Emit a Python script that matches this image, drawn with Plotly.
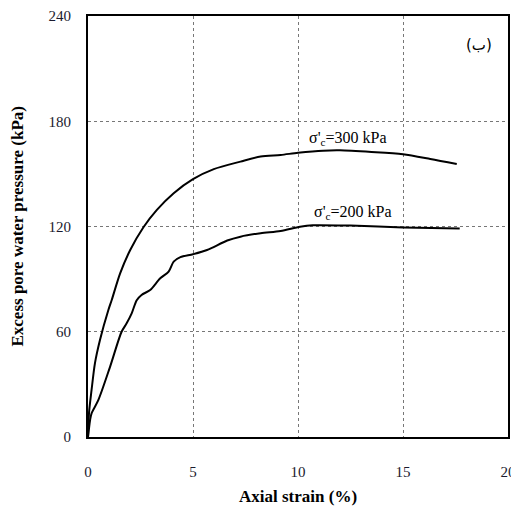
import plotly.graph_objects as go

strain_300 = [0, 0.05, 0.17, 0.33, 0.57, 0.97, 1.13, 1.53, 2.01, 2.64, 3.28, 4.08, 5.0, 5.99, 7.26, 8.22, 9.17, 10.0, 11.2, 12.0, 13.5, 15.0, 16.3, 17.56]
pwp_300 = [0, 14, 26.8, 42, 55.3, 72.4, 78.1, 93.3, 106.6, 119.6, 129.5, 139, 147, 152.7, 157, 159.9, 160.8, 162, 163.2, 163.4, 162.5, 161.2, 158.5, 155.6]

strain_200 = [0, 0.1, 0.17, 0.49, 1.05, 1.6, 1.84, 2.08, 2.32, 2.55, 2.96, 3.44, 3.84, 4.08, 4.4, 5.0, 5.67, 6.63, 7.26, 8.22, 9.17, 10.1, 10.7, 12.5, 15.0, 17.7]
pwp_200 = [0, 9.7, 13.5, 21, 40, 60, 64.8, 70.5, 78, 81, 83.8, 90.5, 94.3, 100, 102.5, 104.2, 106.6, 112, 114.2, 116.2, 117.5, 119.9, 120.7, 120.5, 119.5, 118.8]

x_ticks = [0, 5, 10, 15, 20]
y_ticks = [0, 60, 120, 180, 240]

serif = "Liberation Serif, Times New Roman, serif"

fig = go.Figure()
fig.add_trace(go.Scatter(x=strain_300, y=pwp_300, mode="lines",
                         line=dict(color="black", width=2, shape="spline", smoothing=0.8),
                         showlegend=False, hoverinfo="skip"))
fig.add_trace(go.Scatter(x=strain_200, y=pwp_200, mode="lines",
                         line=dict(color="black", width=2, shape="spline", smoothing=0.8),
                         showlegend=False, hoverinfo="skip"))

fig.add_annotation(x=12.4, y=170, text="σ'<sub>c</sub>=300 kPa", showarrow=False,
                   font=dict(family=serif, size=16, color="black"))
fig.add_annotation(x=12.6, y=128, text="σ'<sub>c</sub>=200 kPa", showarrow=False,
                   font=dict(family=serif, size=16, color="black"))
fig.add_annotation(xref="paper", yref="paper", x=0.967, xanchor="right", y=0.931, yanchor="middle",
                   text="(ب)", showarrow=False,
                   font=dict(family="DejaVu Sans, sans-serif", size=15, color="black"))

# axis titles
fig.add_annotation(xref="paper", yref="paper", x=0.5, y=-0.1425, yanchor="middle", xanchor="center",
                   text="<b>Axial strain (%)</b>", showarrow=False,
                   font=dict(family=serif, size=17, color="black"))
fig.add_annotation(xref="paper", yref="paper", x=-0.169, y=0.5, xanchor="center", yanchor="middle",
                   text="<b>Excess pore water pressure (kPa)</b>", showarrow=False, textangle=-90,
                   font=dict(family=serif, size=17, color="black"))

axis_common = dict(showline=True, linecolor="black", linewidth=2, mirror=True,
                   showgrid=True, gridcolor="#777777", griddash="dot", gridwidth=1,
                   zeroline=False, ticks="", automargin=False,
                   tickfont=dict(family=serif, size=15, color="#1a1a2e"))

fig.update_xaxes(range=[0, 20], tickvals=x_ticks, ticklabelstandoff=20, **axis_common)
fig.update_yaxes(range=[0, 240], tickvals=y_ticks, ticklabelstandoff=12, **axis_common)

# page body has an 8px default margin, so the figure is sized/offset to compensate
fig.update_layout(width=511, height=510, margin=dict(l=80, r=11, t=8, b=81),
                  plot_bgcolor="white", paper_bgcolor="white")

fig.write_html("out.html")
